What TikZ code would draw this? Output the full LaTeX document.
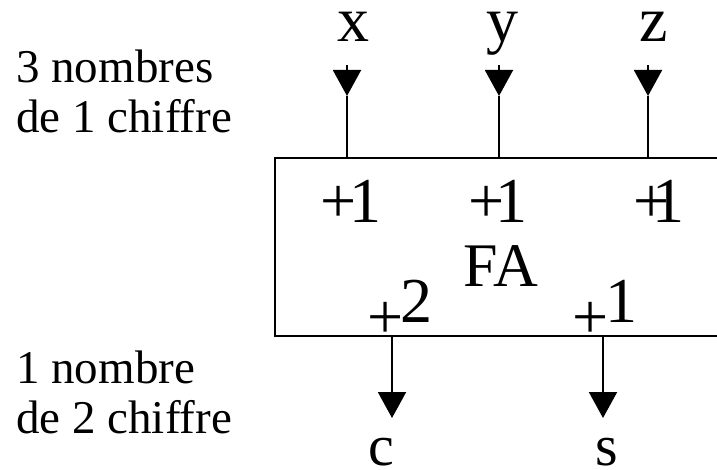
\documentclass[tikz,border=0pt]{standalone}
\usepackage{fontspec}
\setmainfont{Liberation Serif}
\usetikzlibrary{arrows.meta}
\begin{document}
\begin{tikzpicture}[x=1pt,y=-1pt,
  wire/.style={line width=2pt},
  tip/.style={-{Triangle[length=26pt,width=28pt]}},
  big/.style={inner sep=0pt,anchor=base,font=\fontsize{64}{64}\selectfont},
  outlbl/.style={big,font=\fontsize{58}{58}\selectfont},
  side/.style={inner sep=0pt,anchor=base west,align=left,font=\fontsize{47}{50}\selectfont},
  box/.style={draw,line width=2pt,inner sep=0pt,anchor=north west}]
\useasboundingbox (0,0) rectangle (717,470);
\begin{scope}
\clip (0,0) rectangle (717,470);
\node[box,minimum width=460pt,minimum height=178pt] (fa) at (274,157) {};
\end{scope}
% side texts (base = last line)
\node[side] (top) at (16,133) {3 nombres\\de 1 chiffre};
\node[side] (bot) at (16,433) {1 nombre\\de 2 chiffre};
% input labels
\node[big] (x) at (353,42) {x};
\node[big] (y) at (502,42) {y};
\node[big] (z) at (654,42) {z};
% box labels
\node[big] (px) at (351,223) {+\kern-7pt1};
\node[big] (py) at (498,223) {+\kern-9pt1};
\node[big] (pz) at (659,223) {+\kern-18pt1};
\node[big,font=\fontsize{62}{62}\selectfont] (falbl) at (501,287) {FA};
\node[big] (pc) at (400,322) {\raisebox{-16pt}{+}\kern-4pt2};
\node[big] (ps) at (605,322) {\raisebox{-16pt}{+}\kern-4pt1};
% output labels
\node[outlbl] (c) at (381,465) {c};
\node[outlbl] (s) at (607,465) {s};
% input wires
\foreach \n/\xx in {xi/347,yi/499,zi/648}{
  \coordinate (\n s) at (\xx,65);
  \coordinate (\n t) at (\xx,96);
  \draw[wire,tip] (\n s) -- (\n t);
  \draw[wire] (\n t) -- (\n t |- fa.north);
}
% output wires
\coordinate (ct) at (392,418);
\coordinate (st) at (603,418);
\draw[wire,tip] (ct |- fa.south) -- (ct);
\draw[wire,tip] (st |- fa.south) -- (st);
\end{tikzpicture}
\end{document}
